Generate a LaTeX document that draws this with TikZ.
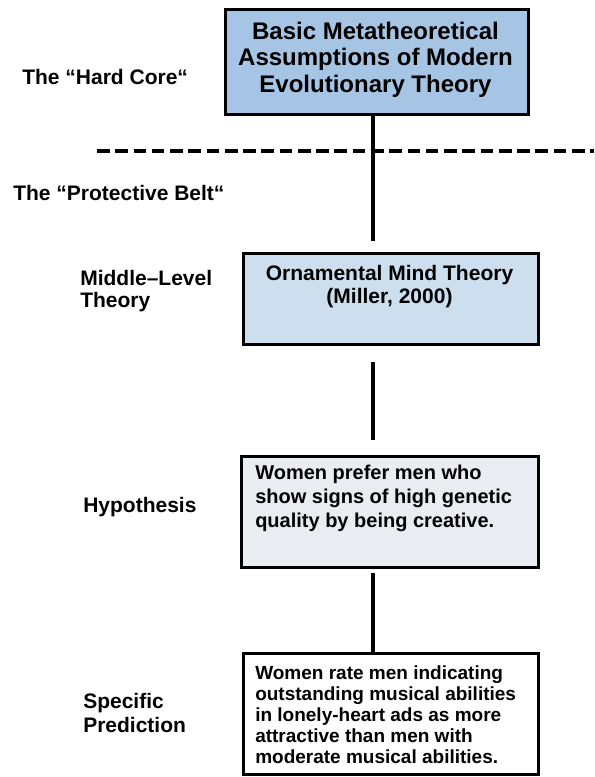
\documentclass[tikz,border=0pt]{standalone}
\usepackage{fontspec}
\setmainfont{Liberation Sans}
\definecolor{coreblue}{RGB}{166,197,228}
\definecolor{theoryblue}{RGB}{205,222,239}
\definecolor{hypgray}{RGB}{233,237,242}
\begin{document}
\begin{tikzpicture}[x=0.75pt,y=-0.75pt,
  box/.style={draw=black, line width=2.6pt, rectangle, inner sep=0pt, anchor=north west},
  link/.style={line width=3.4pt},
  belt/.style={line width=3.4pt, dash pattern=on 9.5pt off 4.2pt},
  lbl/.style={inner sep=0pt, anchor=base west, font=\bfseries\fontsize{15.75pt}{16.5pt}\selectfont},
  coretxt/.style={inner sep=0pt, anchor=base, font=\bfseries\fontsize{18pt}{20pt}\selectfont},
  midtxt/.style={inner sep=0pt, anchor=base, font=\bfseries\fontsize{15.75pt}{17pt}\selectfont},
  hyptxt/.style={inner sep=0pt, anchor=base west, font=\bfseries\fontsize{15pt}{18pt}\selectfont},
  predtxt/.style={inner sep=0pt, anchor=base west, font=\bfseries\fontsize{14.25pt}{15.5pt}\selectfont}]
\useasboundingbox (0,0) rectangle (594,777);

% boxes
\node[box, fill=coreblue, minimum width=227.25pt, minimum height=78.75pt] (core) at (224,8) {};
\node[box, fill=theoryblue, minimum width=221.25pt, minimum height=68.25pt] (mid) at (242,252) {};
\node[box, fill=hypgray, minimum width=222.75pt, minimum height=83.25pt] (hyp) at (240,455) {};
\node[box, fill=white, minimum width=221.25pt, minimum height=90.75pt] (pred) at (242,652) {};

% connector end points
\coordinate (a1) at (373,241);
\coordinate (b0) at (373,362);
\coordinate (b1) at (373,440);
\coordinate (c0) at (373,573);

% dashed boundary between hard core and protective belt
\coordinate (dl) at (97,151);
\coordinate (dr) at (594,151);
\draw[belt] (dl) -- (dr);

% vertical connectors
\draw[link] (a1 |- core.south) -- (a1);
\draw[link] (b0) -- (b1);
\draw[link] (c0) -- (c0 |- pred.north);

% box texts
\node[coretxt] (core1) at (375.5,40) {Basic Metatheoretical};
\node[coretxt] (core2) at (375.5,66) {Assumptions of Modern};
\node[coretxt] (core3) at (375.5,93) {Evolutionary Theory};

\node[midtxt] (mid1) at (389.5,280) {Ornamental Mind Theory};
\node[midtxt] (mid2) at (389.5,303) {(Miller, 2000)};

\node[hyptxt] (hyp1) at (255,479) {Women prefer men who};
\node[hyptxt] (hyp2) at (255,503) {show signs of high genetic};
\node[hyptxt] (hyp3) at (255,527) {quality by being creative.};

\node[predtxt] (pred1) at (255,679) {Women rate men indicating};
\node[predtxt] (pred2) at (255,700) {outstanding musical abilities};
\node[predtxt] (pred3) at (255,721) {in lonely-heart ads as more};
\node[predtxt] (pred4) at (255,742) {attractive than men with};
\node[predtxt] (pred5) at (255,763) {moderate musical abilities.};

% level labels
\node[lbl] (hardcore) at (22,85) {The “Hard Core“};
\node[lbl] (belt) at (13,200) {The “Protective Belt“};
\node[lbl] (ml1) at (80,285) {Middle–Level};
\node[lbl] (ml2) at (80,307) {Theory};
\node[lbl] (hypl) at (83,512) {Hypothesis};
\node[lbl] (sp1) at (83,708) {Specific};
\node[lbl] (sp2) at (83,732) {Prediction};
\end{tikzpicture}
\end{document}
